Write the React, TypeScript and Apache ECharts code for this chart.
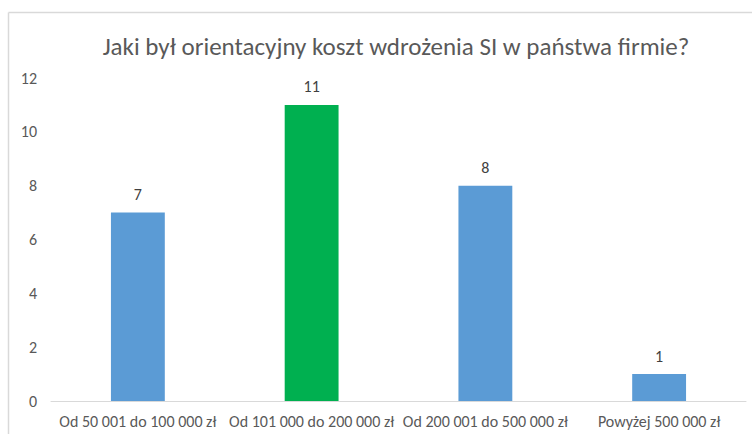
import React, { useEffect, useRef } from "react";
import * as echarts from "echarts";

const titleText = "Jaki był orientacyjny koszt wdrożenia SI w państwa firmie?";
const categories = [
  "Od 50 001 do 100 000 zł",
  "Od 101 000 do 200 000 zł",
  "Od 200 001 do 500 000 zł",
  "Powyżej 500 000 zł",
];
const values = [7, 11, 8, 1];
const barColors = ["#5B9BD5", "#00B050", "#5B9BD5", "#5B9BD5"];
const yTicks = { min: 0, max: 12, interval: 2 };

const FONT = "Calibri, Carlito, 'Liberation Sans', Arial, sans-serif";

export default function App() {
  const ref = useRef<HTMLDivElement>(null);
  useEffect(() => {
    document.body.style.margin = "0";
    if (!ref.current) return;
    const chart = echarts.init(ref.current, undefined, { renderer: "svg" });
    chart.setOption({
      animation: false,
      backgroundColor: "#ffffff",
      textStyle: { fontFamily: FONT },
      title: {
        text: titleText,
        left: 391,
        textAlign: "center",
        top: 29,
        textStyle: { color: "#595959", fontSize: 25, fontWeight: "normal", fontFamily: FONT },
      },
      graphic: [
        { type: "line", shape: { x1: 8.5, y1: 12.5, x2: 752, y2: 12.5 }, style: { stroke: "#d9d9d9", lineWidth: 1.5 } },
        { type: "line", shape: { x1: 8.5, y1: 12.5, x2: 8.5, y2: 434 }, style: { stroke: "#d9d9d9", lineWidth: 1.5 } },
      ],
      grid: { left: 51, right: 7, top: 78, bottom: 33, containLabel: false },
      xAxis: {
        type: "category",
        data: categories,
        axisLine: { show: true, lineStyle: { color: "#d9d9d9", width: 1 } },
        axisTick: { show: false },
        axisLabel: { color: "#595959", fontSize: 16, margin: 12, interval: 0, fontFamily: FONT },
      },
      yAxis: {
        type: "value",
        min: yTicks.min,
        max: yTicks.max,
        interval: yTicks.interval,
        axisLine: { show: false },
        axisTick: { show: false },
        splitLine: { show: false },
        axisLabel: { color: "#595959", fontSize: 16, margin: 14, fontFamily: FONT },
      },
      series: [
        {
          type: "bar",
          data: values.map((v, i) => ({ value: v, itemStyle: { color: barColors[i] } })),
          barWidth: "31%",
          label: {
            show: true,
            position: "top",
            distance: 10,
            color: "#404040",
            fontSize: 16,
            fontFamily: FONT,
          },
        },
      ],
    });
    return () => chart.dispose();
  }, []);
  return <div ref={ref} style={{ width: 753, height: 434 }} />;
}
